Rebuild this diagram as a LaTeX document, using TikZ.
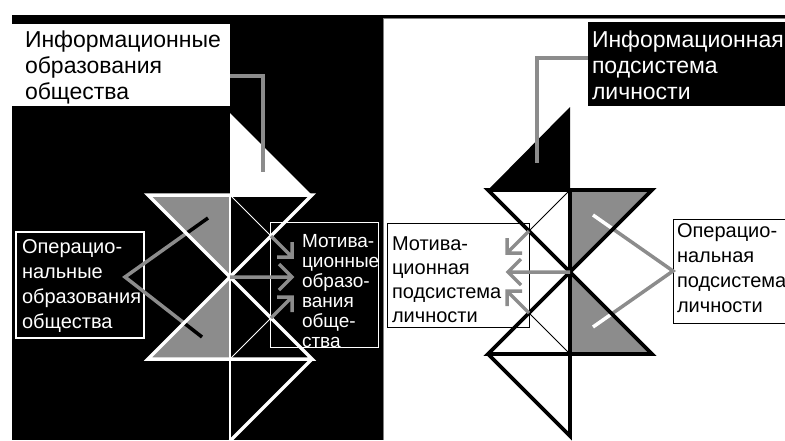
\documentclass[tikz,border=0pt]{standalone}
\usepackage{fontspec}
\setmainfont{Liberation Sans}
\definecolor{dith}{gray}{0.55}
\begin{document}
\begin{tikzpicture}[x=1pt,y=-1pt,
  wthick/.style={draw=white,line width=3.5pt},
  bthick/.style={draw=black,line width=3.8pt},
  wthin/.style={draw=white,line width=1pt},
  bthin/.style={draw=black,line width=1pt},
  conn/.style={draw=dith,line width=3.5pt},
  box/.style={anchor=north west,inner sep=0pt,outer sep=0pt},
  txt/.style={anchor=north west,inner sep=0pt,outer sep=0pt,align=left},
  bigf/.style={font=\fontsize{23}{26}\selectfont},
  midf/.style={font=\fontsize{20}{25}\selectfont},
  motf/.style={font=\fontsize{19}{20}\selectfont},
  rmotf/.style={font=\fontsize{20}{24}\selectfont}]
\useasboundingbox (0,0) rectangle (785,440);
% panels
\fill[black] (12,15) rectangle (383,440);
\fill[black] (383,15) rectangle (785,18);
\draw[gray,line width=0.8pt] (383.4,440) -- (383.4,18.4) -- (785,18.4);

% geometry, left
\coordinate (L) at (230,277);
\coordinate (LT) at (230,195);
\coordinate (LTL) at (148,195);
\coordinate (LTR) at (312,195);
\coordinate (LB) at (230,359);
\coordinate (LBL) at (148,359);
\coordinate (LBR) at (312,359);
\coordinate (LA) at (230,113);
\coordinate (LZ) at (230,441);
\coordinate (LM1) at (271,236);
\coordinate (LM2) at (271,318);
% geometry, right
\coordinate (R) at (570,272);
\coordinate (RT) at (570,190);
\coordinate (RTL) at (488,190);
\coordinate (RTR) at (652,190);
\coordinate (RB) at (570,354);
\coordinate (RBL) at (488,354);
\coordinate (RBR) at (652,354);
\coordinate (RA) at (570,107);
\coordinate (RZ) at (570,436);
\coordinate (RM1) at (529,231);
\coordinate (RM2) at (529,313);

% boxes
\node[box,fill=white,minimum width=218pt,minimum height=82pt] (LInfo) at (12,24) {};
\node[box,fill=black,minimum width=205pt,minimum height=84pt] (RInfo) at (588,22) {};
\node[box,draw=white,line width=1.2pt,minimum width=128pt,minimum height=106pt] (LOp) at (16,232) {};
\node[box,draw=white,line width=1pt,minimum width=108pt,minimum height=125pt] (LMot) at (270,222) {};
\node[box,draw=black,line width=1pt,minimum width=142pt,minimum height=104pt] (RMot) at (387,223) {};
\node[box,draw=black,line width=1pt,minimum width=130pt,minimum height=104pt] (ROp) at (673,219) {};

% fills
\fill[dith] (LTL) -- (LT) -- (L) -- cycle;
\fill[dith] (L) -- (LB) -- (LBL) -- cycle;
\fill[white] (LA) -- (LT) -- (LTR) -- cycle;
\fill[dith] (RT) -- (RTR) -- (R) -- cycle;
\fill[dith] (R) -- (RBR) -- (RB) -- cycle;
\fill[black] (RA) -- (RT) -- (RTL) -- cycle;

% thin lines
\draw[wthin] (LT) -- (LM1);
\draw[wthin] (LB) -- (LM2);
\draw[bthin] (RT) -- (RM1);
\draw[bthin] (RB) -- (RM2);

% operational connectors
\coordinate (LOpA) at (125,277);
\coordinate (LOpE1) at (208,218);
\coordinate (LOpE2) at (202,337);
\coordinate (ROpE1) at (593,215);
\coordinate (ROpE2) at (593,327);
\draw[conn] (LOpE1) -- (LOpA) -- (LOpE2);
\draw[conn] (ROpE1) -- (ROp.west) -- (ROpE2);
\begin{scope}
  \clip (LTL) -- (LT) -- (L) -- cycle;
  \draw[black,line width=3.5pt] (LOpA) -- (LOpE1);
\end{scope}
\begin{scope}
  \clip (L) -- (LB) -- (LBL) -- cycle;
  \draw[black,line width=3.5pt] (LOpA) -- (LOpE2);
\end{scope}
\begin{scope}
  \clip (RT) -- (RTR) -- (R) -- cycle;
  \draw[white,line width=3.5pt] (ROp.west) -- (ROpE1);
\end{scope}
\begin{scope}
  \clip (R) -- (RBR) -- (RB) -- cycle;
  \draw[white,line width=3.5pt] (ROp.west) -- (ROpE2);
\end{scope}

% thick lines
\draw[wthick] (LTL) -- (LTR) -- (LBL) -- (LBR) -- cycle;
\draw[wthick] (LBR) -- (LZ);
\draw[draw=white,line width=2.5pt] (LT) -- (LZ);
\draw[bthick] (RTL) -- (RTR) -- (RBL) -- (RBR) -- cycle;
\draw[bthick] (RBL) -- (RZ) -- (RT);

% information connectors
\coordinate (LIend) at (263,172);
\coordinate (RIend) at (537,163);
\draw[conn] ([yshift=-11pt]LInfo.east) -| (LIend);
\draw[conn] ([yshift=6pt]RInfo.west) -| (RIend);

% motivational arrows, left
\coordinate (LT1) at (292,257);
\coordinate (LT2) at (292,277);
\coordinate (LT3) at (292,297);
\draw[conn] (LM1) -- (LT1) ++(-15,0) -- (LT1) -- ++(0,-15);
\draw[conn] (L) -- (LT2) ++(-13,-13) -- (LT2) -- ++(-13,13);
\draw[conn] (LM2) -- (LT3) ++(-15,0) -- (LT3) -- ++(0,15);
% motivational arrows, right
\coordinate (RT1) at (507,253);
\coordinate (RT2) at (508,272);
\coordinate (RT3) at (507,291);
\draw[conn] (RM1) -- (RT1) ++(15,0) -- (RT1) -- ++(0,-15);
\draw[conn] (R) -- (RT2) ++(13,-13) -- (RT2) -- ++(13,13);
\draw[conn] (RM2) -- (RT3) ++(15,0) -- (RT3) -- ++(0,15);

% texts
\node[txt,bigf,text=black] (LInfoT) at (25,28.8) {\strut Информационные\\образования\\общества};
\node[txt,bigf,text=white] (RInfoT) at (592,28.8) {\strut Информационная\\подсистема\\личности};
\node[txt,midf,text=white] (LOpT) at (22,235.5) {\strut Операцио-\\нальные\\образования\\общества};
\node[txt,motf,text=white] (LMotT) at (302,233) {\strut Мотива-\\ционные\\образо-\\вания\\обще-\\ства};
\node[txt,rmotf,text=black] (RMotT) at (392,233.2) {\strut Мотива-\\ционная\\подсистема\\личности};
\node[txt,midf,text=black] (ROpT) at (677,219.5) {\strut Операцио-\\нальная\\подсистема\\личности};
\end{tikzpicture}
\end{document}
